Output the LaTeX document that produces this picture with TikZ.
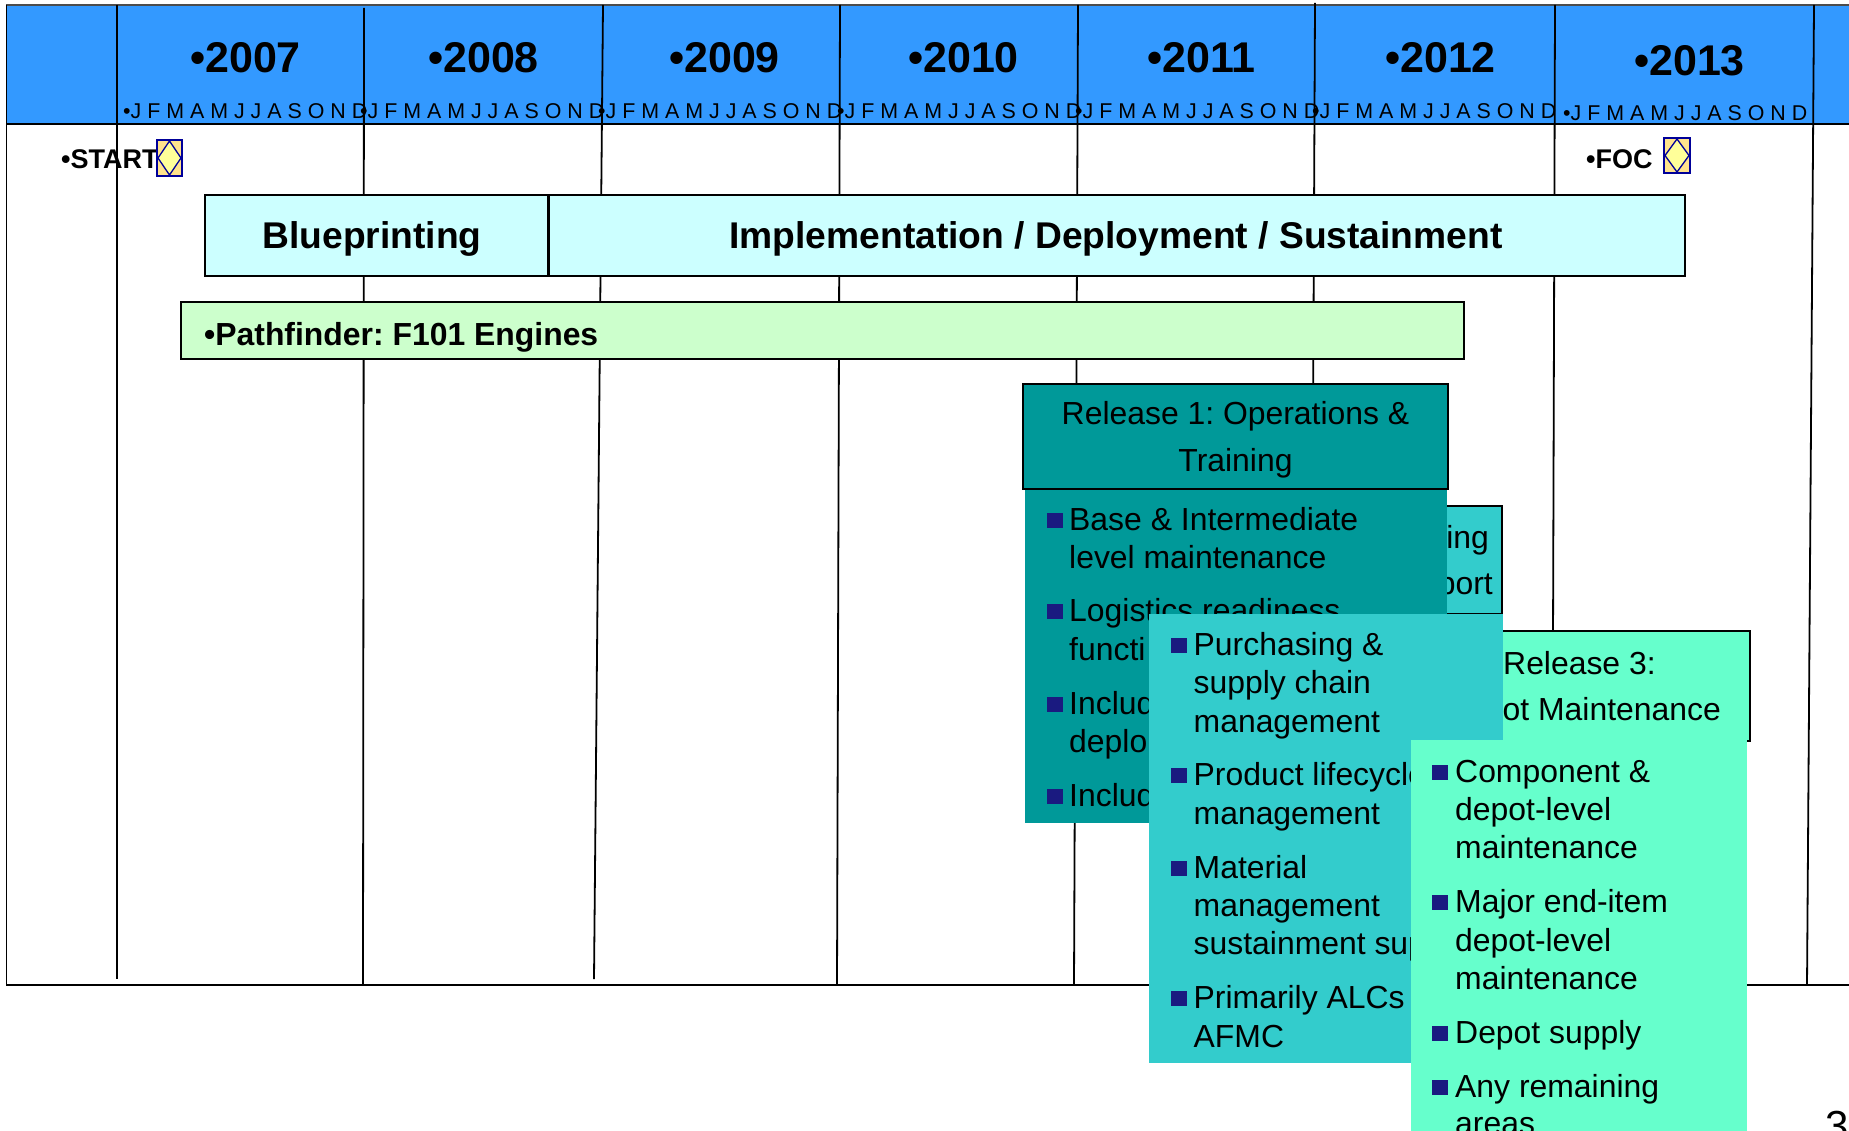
\documentclass[tikz,border=0pt]{standalone}
\usepackage{fontspec}
\setmainfont{Liberation Sans}
\frenchspacing
\definecolor{hdrblue}{HTML}{3399FF}
\definecolor{paleCyan}{HTML}{CCFFFF}
\definecolor{paleGreen}{HTML}{CCFFCC}
\definecolor{rOne}{HTML}{009999}
\definecolor{rTwo}{HTML}{33CCCC}
\definecolor{rThree}{HTML}{66FFCC}
\definecolor{bulcol}{HTML}{1A1A80}
\definecolor{mkfill}{HTML}{FFE38C}
\definecolor{mkdia}{HTML}{FFFF99}
\definecolor{mkline}{HTML}{000099}
\tikzset{
  grid/.style={draw=black,line width=1.8pt},
  yearlbl/.style={anchor=base west,inner sep=0pt,font=\fontsize{43}{43}\selectfont\bfseries},
  monthlbl/.style={anchor=base west,inner sep=0pt,font=\fontsize{21.4}{21.4}\selectfont},
  flag/.style={anchor=base west,inner sep=0pt,font=\fontsize{27}{27}\selectfont\bfseries},
  barbox/.style={draw=black,line width=2pt,anchor=north west,inner sep=0pt},
  barlbl/.style={anchor=base,inner sep=0pt,font=\fontsize{37.2}{37.2}\selectfont\bfseries},
  relhead/.style={draw=black,line width=2pt,anchor=north west,inner sep=0pt},
  relbody/.style={anchor=north west,inner sep=0pt},
  li/.style={anchor=base west,inner sep=0pt,font=\fontsize{31.9}{31.9}\selectfont},
  sq/.style={fill=bulcol,anchor=north west,inner sep=0pt,minimum width=16pt,minimum height=15pt},
  mkbox/.style={draw=mkline,fill=mkfill,line width=1.6pt},
  mkdiam/.style={draw=mkline,fill=mkdia,line width=1.3pt},
}
\newcommand{\itemat}[5]{% name, bullet x, text x, baseline, text
  \node[sq] (#1b) at (#2,#4-17) {};
  \node[li] (#1) at (#3,#4) {#5};
}
\newcommand{\contat}[4]{\node[li] (#1) at (#2,#3) {#4};}
\begin{document}
\begin{tikzpicture}[x=1pt,y=-1pt]
\useasboundingbox (0,0) rectangle (1849,1131);
\fill[white] (0,0) rectangle (1849,1131);
% header band
\fill[hdrblue] (6,6) rectangle (1849,124);
\draw[draw=black!70,line width=1.6pt] (6,5) -- (1849,5);
\draw[black,line width=1.8pt] (6.5,5) -- (6.5,985) -- (1849,985);
\draw[black,line width=2.8pt] (6,124) -- (1849,124);
% vertical year lines
\draw[grid] (117,5) -- (117,979);
\draw[grid] (364,8) -- (363,985);
\draw[grid] (603,5) -- (594,979);
\draw[grid] (840,5) -- (837,985);
\draw[grid] (1078,5) -- (1074,985);
\draw[grid] (1315,3) -- (1312,640);
\draw[grid] (1555,5) -- (1553,640);
\draw[grid] (1814,5) -- (1807,985);
% years
\foreach \yr/\xx/\yy in {2007/190/73,2008/428/73,2009/669/73,2010/908/73,2011/1147/73,2012/1385/73,2013/1634/76}
  \node[yearlbl] (y\yr) at (\xx,\yy) {•\yr};
\foreach \yr/\xx/\yy in {2007/123/118.5,2008/360/118.5,2009/598/118.5,2010/837/118.5,2011/1075/118.5,2012/1312/118.5,2013/1563/120.5}
  \node[monthlbl] (m\yr) at (\xx,\yy) {•J F M A M J J A S O N D};
% milestones
\node[flag] (start) at (61,169) {•START};
\node[flag] (foc) at (1586,169) {•FOC};
\draw[mkbox] (157,140) rectangle (182,176);
\draw[mkdiam] (169.5,141) -- (181,158) -- (169.5,175) -- (158,158) -- cycle;
\draw[mkbox] (1664,138) rectangle (1690,173);
\draw[mkdiam] (1677,139) -- (1689,155.5) -- (1677,172) -- (1665,155.5) -- cycle;
% bars
\node[barbox,fill=paleCyan,minimum width=343pt,minimum height=81pt] (blue) at (204,194.5) {};
\node[barbox,fill=paleCyan,minimum width=1136pt,minimum height=81pt] (impl) at (548,194.5) {};
\node[barlbl] (bluetxt) at (372,248.5) {Blueprinting};
\node[barlbl] (impltxt) at (1116,248.5) {Implementation / Deployment / Sustainment};
\node[barbox,fill=paleGreen,minimum width=1283pt,minimum height=57pt] (path) at (180,301) {};
\node[anchor=base west,inner sep=0pt,font=\fontsize{31.9}{31.9}\selectfont\bfseries] (pathtxt) at (204,345) {•Pathfinder: F101 Engines};
% release 2 header (mostly hidden)
\node[relhead,fill=rTwo,minimum width=101pt,minimum height=108pt] (r2head) at (1400,505) {};
\node[li,anchor=base east] (r2a) at (1489,548) {ing};
\node[li,anchor=base east] (r2b) at (1493,594) {port};
% release 1
\node[relbody,fill=rOne,minimum width=422pt,minimum height=335pt] (r1body) at (1025,488) {};
\node[relhead,fill=rOne,minimum width=425pt,minimum height=105pt] (r1head) at (1022,383) {};
\node[li,anchor=base] (r1t1) at (1235.5,424) {Release 1: Operations \&};
\node[li,anchor=base] (r1t2) at (1235.5,471) {Training};
\itemat{a1}{1047}{1069}{530}{Base \& Intermediate}
\contat{a1c}{1069}{568}{level maintenance}
\itemat{a2}{1047}{1069}{621}{Logistics readiness}
\contat{a2c}{1069}{660}{functi}
\itemat{a3}{1047}{1069}{714}{Includ}
\contat{a3c}{1069}{752}{deplo}
\itemat{a4}{1047}{1069}{806}{Includ}
% release 3 header
\node[relhead,fill=rThree,minimum width=269pt,minimum height=110pt] (r3head) at (1480,630) {};
\node[li] (r3t1) at (1503,674) {Release 3:};
\node[li,anchor=base east] (r3t2) at (1721,720) {ot Maintenance};
% release 2 body
\node[relbody,fill=rTwo,minimum width=354pt,minimum height=449pt] (r2body) at (1149,614) {};
\itemat{b1}{1171}{1193.5}{655}{Purchasing \&}
\contat{b1c}{1193.5}{693}{supply chain}
\contat{b1d}{1193.5}{732}{management}
\itemat{b2}{1171}{1193.5}{785}{Product lifecycle}
\contat{b2c}{1193.5}{824}{management}
\itemat{b3}{1171}{1193.5}{878}{Material}
\contat{b3c}{1193.5}{916}{management}
\contat{b3d}{1193.5}{954}{sustainment sup}
\itemat{b4}{1171}{1193.5}{1008}{Primarily ALCs}
\contat{b4c}{1193.5}{1047}{AFMC}
% release 3 body
\node[relbody,fill=rThree,minimum width=336pt,minimum height=391pt] (r3body) at (1411,740) {};
\itemat{c1}{1432}{1455}{782}{Component \&}
\contat{c1c}{1455}{820}{depot-level}
\contat{c1d}{1455}{858}{maintenance}
\itemat{c2}{1432}{1455}{912}{Major end-item}
\contat{c2c}{1455}{951}{depot-level}
\contat{c2d}{1455}{989}{maintenance}
\itemat{c3}{1432}{1455}{1043}{Depot supply}
\itemat{c4}{1432}{1455}{1097}{Any remaining}
\contat{c4c}{1455}{1134}{areas}
% page number
\node[anchor=base west,inner sep=0pt,font=\fontsize{42}{42}\selectfont] (pg) at (1825,1140) {3};
\end{tikzpicture}
\end{document}
